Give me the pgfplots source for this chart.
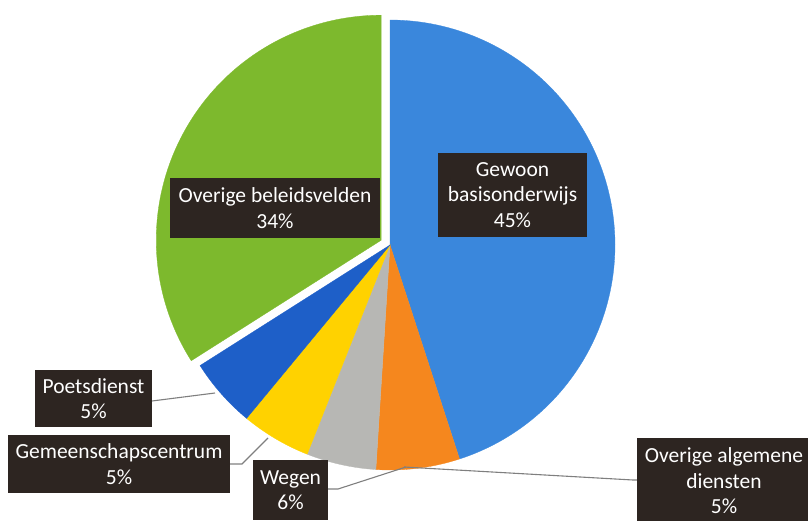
\documentclass[border=0pt]{standalone}
\usepackage{pgfplots}
\pgfplotsset{compat=1.18}
\usepackage{fontspec}
\setmainfont{Carlito}
\definecolor{cBlue}{HTML}{3A87DC}
\definecolor{cOrange}{HTML}{F5871E}
\definecolor{cGray}{HTML}{B7B7B4}
\definecolor{cYellow}{HTML}{FFD200}
\definecolor{cDark}{HTML}{1E5FC8}
\definecolor{cGreen}{HTML}{7DB92D}
\definecolor{cBox}{HTML}{2D2521}
\definecolor{cLead}{HTML}{7F7F7F}
\tikzset{lab/.style={fill=cBox, text=white, align=center, inner sep=0pt,
     font=\fontsize{21.5}{25.5}\selectfont}}
\begin{document}
\begin{tikzpicture}
\begin{axis}[
  x=1pt, y=1pt, xmin=0, xmax=808, ymin=0, ymax=520,
  at={(0pt,0pt)}, anchor=south west,
  hide axis, enlargelimits=false, clip=false,
  every axis plot/.append style={no marks},
]
% shares (%) clockwise from 12 o'clock: 45, 6, 5, 5, 5, 34 ; radius 225, centre (390,275)
% Gewoon basisonderwijs 45
\addplot[fill=cBlue, draw=cBlue, line width=0.3pt, domain={90-3.6*45}:{90}, samples=120]
  ({390+225*cos(x)}, {275+225*sin(x)}) -- (axis cs:390,275) -- cycle;
% orange slice 6
\addplot[fill=cOrange, draw=cOrange, line width=0.3pt, domain={90-3.6*51}:{90-3.6*45}, samples=30]
  ({390+225*cos(x)}, {275+225*sin(x)}) -- (axis cs:390,275) -- cycle;
% gray slice 5
\addplot[fill=cGray, draw=cGray, line width=0.3pt, domain={90-3.6*56}:{90-3.6*51}, samples=30]
  ({390+225*cos(x)}, {275+225*sin(x)}) -- (axis cs:390,275) -- cycle;
% Gemeenschapscentrum 5
\addplot[fill=cYellow, draw=cYellow, line width=0.3pt, domain={90-3.6*61}:{90-3.6*56}, samples=30]
  ({390+225*cos(x)}, {275+225*sin(x)}) -- (axis cs:390,275) -- cycle;
% Poetsdienst 5
\addplot[fill=cDark, draw=cDark, line width=0.3pt, domain={90-3.6*66}:{90-3.6*61}, samples=30]
  ({390+225*cos(x)}, {275+225*sin(x)}) -- (axis cs:390,275) -- cycle;
% Overige beleidsvelden 34 (exploded by 10)
\addplot[fill=cGreen, draw=cGreen, line width=0.3pt, domain={90-3.6*100}:{90-3.6*66}, samples=100]
  ({381.24+225*cos(x)}, {279.82+225*sin(x)}) -- (axis cs:381.24,279.82) -- cycle;

% leader lines
\addplot[cLead, line width=1.1pt] coordinates {(152,119) (215,127)};
\addplot[cLead, line width=1.1pt] coordinates {(230,56) (242,56) (268,82)};
\addplot[cLead, line width=1.1pt] coordinates {(328,31) (338,31) (406,53)};
\addplot[cLead, line width=1.1pt] coordinates {(404,53) (633,40) (640,40)};

% labels
\node[lab, minimum width=149pt, minimum height=84pt] at (axis cs:512.5,325) {Gewoon\\basisonderwijs\\45\%};
\node[lab, minimum width=210pt, minimum height=60pt] at (axis cs:275,312) {Overige beleidsvelden\\34\%};
\node[lab, minimum width=117pt, minimum height=57pt] at (axis cs:93.5,121.5) {Poetsdienst\\5\%};
\node[lab, minimum width=222pt, minimum height=58pt] at (axis cs:119,56) {Gemeenschapscentrum\\5\%};
\node[lab, minimum width=75pt, minimum height=60pt] at (axis cs:290.5,30) {Wegen\\6\%};
\node[lab, minimum width=175pt, minimum height=86pt] at (axis cs:724,39) {Overige algemene\\diensten\\5\%};
\end{axis}
\pgfresetboundingbox
\path[use as bounding box] (0pt,0pt) rectangle (808pt,520pt);
\end{tikzpicture}
\end{document}
